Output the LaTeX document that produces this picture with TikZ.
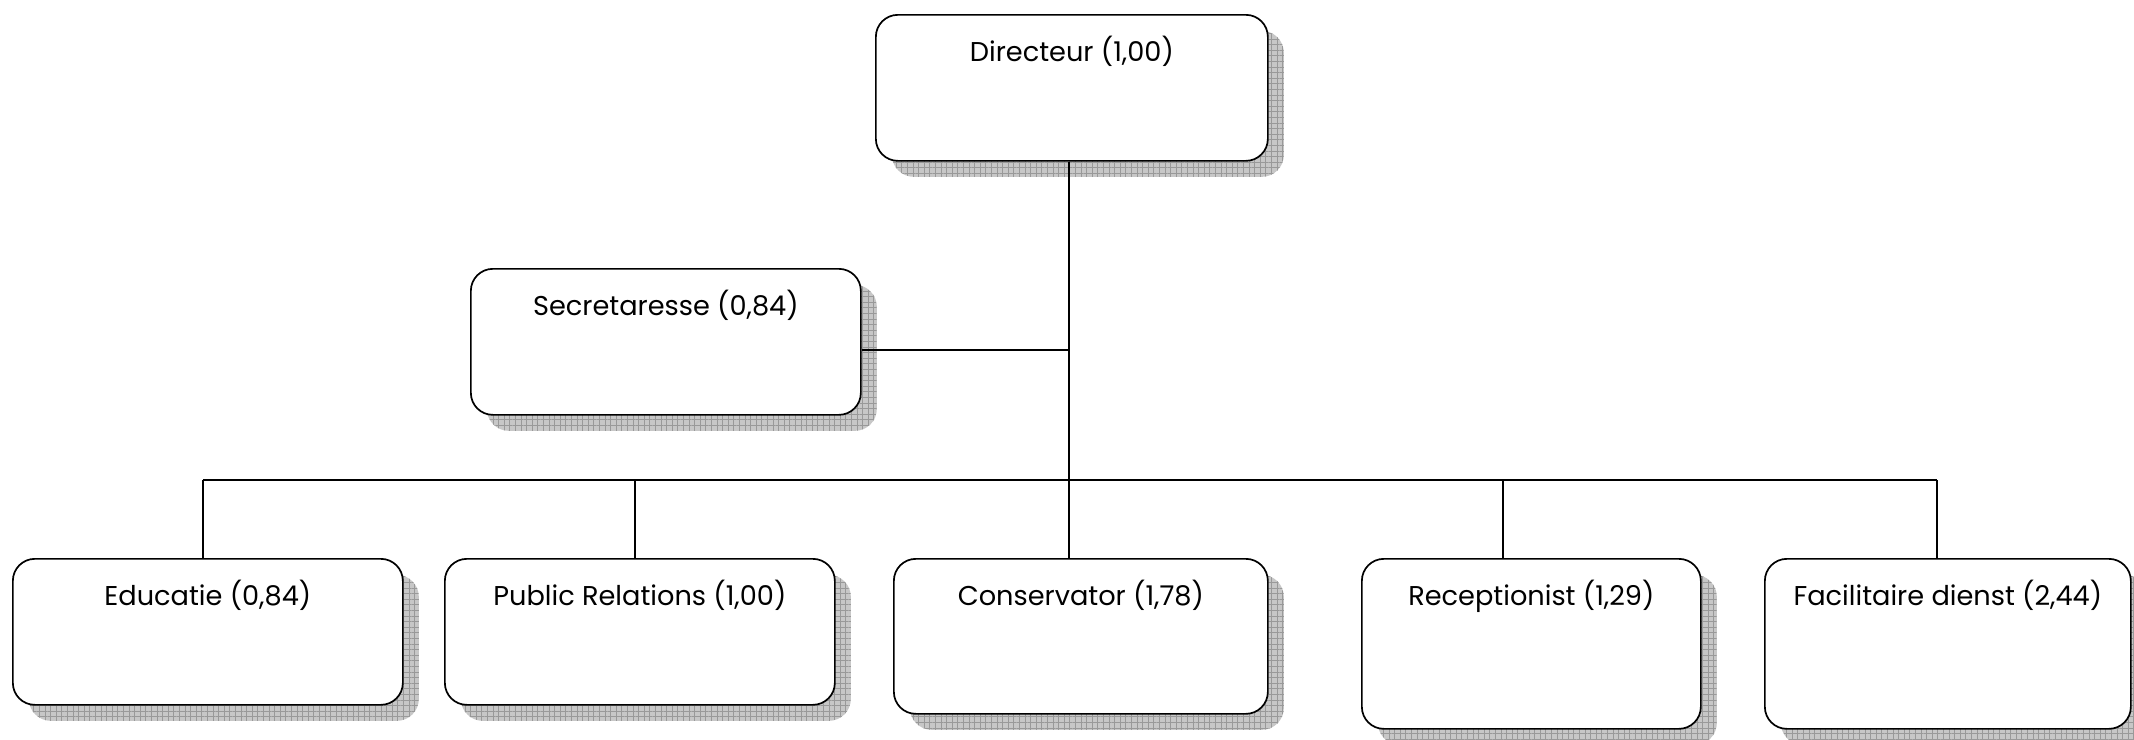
\documentclass[tikz,border=0pt]{standalone}
\usepackage{fontspec}
\setmainfont{Poppins}
\usetikzlibrary{calc, shadows, patterns.meta, positioning}
\tikzset{
	orgbox/.style={draw, line width=0.85pt, rounded corners=11pt, fill=white, anchor=north west,
		inner xsep=0pt, inner ysep=14pt, text height=9.5pt, text depth=35.5pt, minimum width=195pt,
		font=\fontsize{13.6}{16}\selectfont,
		drop shadow={shadow xshift=8pt, shadow yshift=-8pt, opacity=1, fill=black!22,
			postaction={pattern={Hatch[angle=0, distance=2.8pt, line width=0.3pt]}, pattern color=black!40}}},
	orgline/.style={line width=0.65pt}
}
\begin{document}
\begin{tikzpicture}[x=0.5pt, y=-0.5pt]
	\useasboundingbox (0,0) rectangle (2134,739);
	\node[orgbox, minimum width=196pt] (dir) at (875,14) {Directeur (1,00)};
	\node[orgbox] (sec) at (470,268) {Secretaresse (0,84)};
	\node[orgbox] (edu) at (12,558) {Educatie (0,84)};
	\node[orgbox] (pr) at (444,558) {Public Relations (1,00)};
	\node[orgbox, minimum width=187pt, text depth=40pt] (con) at (893,558) {Conservator (1,78)};
	\node[orgbox, minimum width=169.5pt, text depth=47.5pt] (rec) at (1361,558) {Receptionist (1,29)};
	\node[orgbox, minimum width=183pt, text depth=47.5pt] (fac) at (1764,558) {Facilitaire dienst (2,44)};
	\coordinate (hub) at (1069,480);
	\draw[orgline] (dir.south -| hub) -- (hub);
	\draw[orgline] ([yshift=-4pt]sec.east) -- ([yshift=-4pt]sec.east -| hub);
	\draw[orgline] ([xshift=-2.5pt]edu.north |- hub) -- ([xshift=-5.5pt]fac.north |- hub);
	\foreach \n/\s in {edu/-2.5pt, pr/-2.5pt, con/-6pt, rec/-14.25pt, fac/-5.5pt}
		\draw[orgline] ([xshift=\s]\n.north) -- ([xshift=\s]\n.north |- hub);
\end{tikzpicture}
\end{document}
